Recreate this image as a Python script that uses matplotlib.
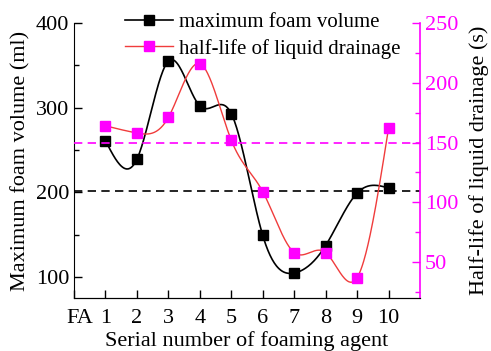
import numpy as np
import matplotlib.pyplot as plt
import matplotlib.transforms as mtransforms
from matplotlib.ticker import MultipleLocator

plt.rcParams['font.family'] = ['Liberation Serif', 'DejaVu Serif']
plt.rcParams['mathtext.fontset'] = 'stix'

# serial number of foaming agent (0 = FA)
agents = np.arange(1, 11)
tick_pos = np.arange(0, 11)
tick_labels = ['FA', '1', '2', '3', '4', '5', '6', '7', '8', '9', '10']

foam_volume = [261, 239, 355, 302, 293, 149, 104.5, 137, 199, 205]   # ml
half_life = [164, 158, 171, 216, 152, 109, 58, 58, 37, 162]           # s

ref_volume = 202
ref_half_life = 150

MAGENTA = '#ff00ff'
RED = '#f03c3c'


def natural_spline(x, y, n=400):
    x = np.asarray(x, float)
    y = np.asarray(y, float)
    k = len(x)
    h = np.diff(x)
    A = np.zeros((k, k))
    b = np.zeros(k)
    A[0, 0] = A[-1, -1] = 1
    for i in range(1, k - 1):
        A[i, i - 1] = h[i - 1]
        A[i, i] = 2 * (h[i - 1] + h[i])
        A[i, i + 1] = h[i]
        b[i] = 3 * ((y[i + 1] - y[i]) / h[i] - (y[i] - y[i - 1]) / h[i - 1])
    c = np.linalg.solve(A, b)
    xs = np.linspace(x[0], x[-1], n)
    idx = np.clip(np.searchsorted(x, xs) - 1, 0, k - 2)
    dx = xs - x[idx]
    hi = h[idx]
    bi = (y[idx + 1] - y[idx]) / hi - hi * (2 * c[idx] + c[idx + 1]) / 3
    di = (c[idx + 1] - c[idx]) / (3 * hi)
    ys = y[idx] + bi * dx + c[idx] * dx ** 2 + di * dx ** 3
    return xs, ys


fig = plt.figure(figsize=(4.91, 3.51), dpi=100)
ax = fig.add_axes([0.1507, 0.151, 0.7047, 0.7835])
ax2 = ax.twinx()

dash = (0, (5, 3.2))

xs, ys = natural_spline(agents, foam_volume)
ax.plot(xs, ys, color='black', lw=1.2)
ax.plot(agents, foam_volume, ls='none', marker='s', ms=6.8, color='black')
ax.axhline(ref_volume, color='black', ls=dash, lw=1.2)

xs2, ys2 = natural_spline(agents, half_life)
ax2.plot(xs2, ys2, color=RED, lw=1.0)
ax2.plot(agents, half_life, ls='none', marker='s', ms=6.8, color=MAGENTA)
ax2.axhline(ref_half_life, color=MAGENTA, ls=dash, lw=1.2)

# legend handles
ax.plot([], [], color='black', lw=1.2, marker='s', ms=6.8, label='maximum foam volume')
ax.plot([], [], color=RED, lw=1.0, marker='s', ms=6.8, mfc=MAGENTA, mec=MAGENTA,
        label='half-life of liquid drainage')
ax.legend(loc='upper left', bbox_to_anchor=(0.117, 1.075), frameon=False, fontsize=15,
          handlelength=2.3, handletextpad=0.3, labelspacing=0.3, borderpad=0)

ax.set_xlim(0, 11)
ax.set_ylim(75, 400)
ax2.set_ylim(20, 250)
ax.set_xticks(tick_pos)
ax.set_xticklabels(tick_labels)
ax.yaxis.set_major_locator(MultipleLocator(100))
ax.yaxis.set_minor_locator(MultipleLocator(50))
ax2.yaxis.set_major_locator(MultipleLocator(50))
ax2.yaxis.set_minor_locator(MultipleLocator(25))

for a in (ax, ax2):
    a.spines['top'].set_visible(False)
    a.tick_params(which='both', direction='in', labelsize=16)
    a.tick_params(which='major', length=6, width=1)
    a.tick_params(which='minor', length=3.5, width=1)
ax.tick_params(axis='y', which='both', right=False)
ax.tick_params(axis='x', which='both', top=False, pad=8)
ax.spines['right'].set_visible(False)
ax2.spines['left'].set_visible(False)
ax2.spines['right'].set_color(MAGENTA)
ax2.spines['right'].set_linewidth(1.2)
ax2.tick_params(axis='y', which='both', colors=MAGENTA, labelcolor=MAGENTA)

# nudge the FA label a little off the spine
fa = ax.get_xticklabels()[0]
fa.set_transform(fa.get_transform() + mtransforms.ScaledTranslation(4 / 72, 0, fig.dpi_scale_trans))

ax.set_xlabel('Serial number of foaming agent', fontsize=16, labelpad=2)
ax.set_ylabel('Maximum foam volume (ml)', fontsize=16, labelpad=4)
ax2.set_ylabel('Half-life of liquid drainage (s)', fontsize=16, labelpad=8)

fig.savefig('out.png', dpi=100)
